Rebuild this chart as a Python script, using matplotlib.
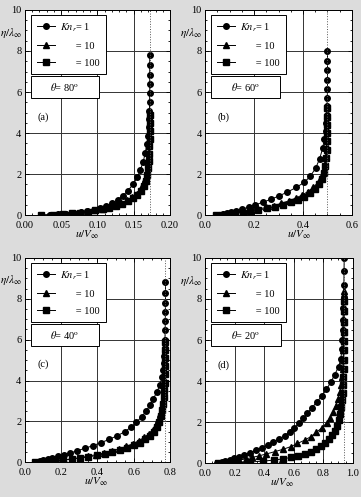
import numpy as np
import matplotlib
matplotlib.use("Agg")
import matplotlib.pyplot as plt
from matplotlib.patches import Rectangle
from matplotlib.ticker import AutoMinorLocator, FormatStrFormatter

plt.rcParams['font.family'] = ['Liberation Serif', 'DejaVu Serif']
plt.rcParams['mathtext.fontset'] = 'stix'

# ---- data: (eta/lambda, u/V) for each panel and Knudsen number ----
# panel (a), theta = 80
a_kn1_eta = [7.8, 7.3, 6.85, 6.4, 5.95, 5.5, 5.1, 4.7, 4.3, 3.85, 3.45, 3.05, 2.6, 2.2, 1.85,
             1.5, 1.2, 0.95, 0.75, 0.58, 0.45, 0.35, 0.27, 0.2, 0.15, 0.1, 0.065, 0.035, 0.015, 0.0]
a_kn1_u = [0.172, 0.172, 0.172, 0.172, 0.172, 0.1718, 0.1716, 0.1712, 0.1705, 0.1695, 0.168, 0.166,
           0.163, 0.159, 0.155, 0.149, 0.142, 0.135, 0.128, 0.120, 0.112, 0.104, 0.095, 0.086, 0.077,
           0.067, 0.057, 0.046, 0.034, 0.022]
a_kn10_eta = [5.0, 4.6, 4.2, 3.8, 3.45, 3.1, 2.75, 2.4, 2.05, 1.75, 1.5, 1.25, 1.05, 0.88, 0.73,
              0.6, 0.49, 0.4, 0.32, 0.25, 0.19, 0.14, 0.1, 0.065, 0.035, 0.015, 0.0]
a_kn10_u = [0.172, 0.172, 0.172, 0.1718, 0.1715, 0.171, 0.1705, 0.1695, 0.168, 0.166, 0.163, 0.159,
            0.154, 0.148, 0.141, 0.133, 0.124, 0.115, 0.106, 0.097, 0.087, 0.077, 0.067, 0.056,
            0.045, 0.033, 0.022]
a_kn100_eta = [4.9, 4.5, 4.1, 3.7, 3.35, 3.0, 2.65, 2.3, 1.98, 1.68, 1.42, 1.2, 1.0, 0.84, 0.7,
               0.57, 0.46, 0.37, 0.3, 0.23, 0.17, 0.12, 0.085, 0.05, 0.025, 0.0]
a_kn100_u = [0.172, 0.172, 0.172, 0.1718, 0.1715, 0.1712, 0.1706, 0.1698, 0.1685, 0.1665, 0.164,
             0.160, 0.155, 0.149, 0.142, 0.134, 0.125, 0.116, 0.107, 0.097, 0.087, 0.076, 0.065,
             0.053, 0.039, 0.022]

# panel (b), theta = 60
b_kn1_eta = [8.0, 7.5, 7.05, 6.6, 6.15, 5.7, 5.3, 4.9, 4.5, 4.1, 3.7, 3.25, 2.75, 2.3, 1.9, 1.6,
             1.35, 1.12, 0.93, 0.77, 0.63, 0.5, 0.39, 0.3, 0.22, 0.15, 0.1, 0.06, 0.03, 0.0]
b_kn1_u = [0.50, 0.50, 0.50, 0.50, 0.50, 0.499, 0.498, 0.497, 0.495, 0.492, 0.487, 0.480, 0.468,
           0.452, 0.430, 0.405, 0.372, 0.335, 0.300, 0.268, 0.235, 0.205, 0.178, 0.152, 0.128,
           0.106, 0.088, 0.072, 0.058, 0.045]
b_kn10_eta = [5.3, 4.9, 4.5, 4.1, 3.7, 3.3, 2.9, 2.5, 2.15, 1.85, 1.58, 1.35, 1.15, 0.98, 0.83,
              0.7, 0.58, 0.47, 0.38, 0.3, 0.23, 0.17, 0.12, 0.075, 0.04, 0.0]
b_kn10_u = [0.50, 0.50, 0.50, 0.499, 0.498, 0.497, 0.494, 0.490, 0.484, 0.474, 0.460, 0.442, 0.420,
            0.396, 0.370, 0.342, 0.312, 0.282, 0.250, 0.218, 0.186, 0.155, 0.126, 0.098, 0.072, 0.045]
b_kn100_eta = [5.2, 4.8, 4.4, 4.0, 3.6, 3.2, 2.8, 2.4, 2.05, 1.75, 1.5, 1.27, 1.07, 0.9, 0.75,
               0.62, 0.51, 0.41, 0.33, 0.25, 0.19, 0.13, 0.09, 0.05, 0.02, 0.0]
b_kn100_u = [0.50, 0.50, 0.50, 0.499, 0.498, 0.496, 0.494, 0.490, 0.486, 0.478, 0.466, 0.450,
             0.430, 0.406, 0.380, 0.350, 0.318, 0.285, 0.252, 0.218, 0.185, 0.153, 0.122, 0.093,
             0.068, 0.045]

# panel (c), theta = 40
c_kn1_eta = [8.8, 8.3, 7.8, 7.35, 6.9, 6.45, 6.0, 5.6, 5.2, 4.85, 4.5, 4.15, 3.8, 3.45, 3.1, 2.8,
             2.5, 2.22, 1.96, 1.72, 1.5, 1.3, 1.12, 0.96, 0.81, 0.68, 0.56, 0.45, 0.36, 0.28, 0.21,
             0.15, 0.1, 0.06, 0.03, 0.0]
c_kn1_u = [0.775, 0.775, 0.775, 0.774, 0.774, 0.773, 0.772, 0.770, 0.768, 0.766, 0.763, 0.756,
           0.745, 0.728, 0.708, 0.690, 0.668, 0.643, 0.615, 0.585, 0.552, 0.510, 0.465, 0.420,
           0.375, 0.330, 0.288, 0.250, 0.215, 0.182, 0.152, 0.125, 0.102, 0.083, 0.068, 0.055]
c_kn10_eta = [6.0, 5.6, 5.2, 4.8, 4.4, 4.0, 3.65, 3.3, 2.95, 2.65, 2.35, 2.08, 1.83, 1.6, 1.4,
              1.21, 1.05, 0.9, 0.77, 0.65, 0.55, 0.45, 0.37, 0.3, 0.23, 0.17, 0.12, 0.08, 0.045,
              0.02, 0.0]
c_kn10_u = [0.775, 0.775, 0.774, 0.773, 0.772, 0.770, 0.768, 0.765, 0.760, 0.754, 0.746, 0.736,
            0.722, 0.705, 0.684, 0.658, 0.628, 0.594, 0.557, 0.518, 0.478, 0.435, 0.393, 0.350,
            0.306, 0.262, 0.218, 0.176, 0.136, 0.097, 0.058]
c_kn100_eta = [5.9, 5.5, 5.1, 4.7, 4.3, 3.9, 3.55, 3.2, 2.85, 2.55, 2.25, 1.98, 1.73, 1.5, 1.3,
               1.12, 0.96, 0.82, 0.7, 0.59, 0.49, 0.4, 0.33, 0.26, 0.2, 0.15, 0.1, 0.065, 0.035,
               0.015, 0.0]
c_kn100_u = [0.775, 0.775, 0.774, 0.773, 0.772, 0.771, 0.769, 0.766, 0.762, 0.757, 0.750, 0.740,
             0.727, 0.710, 0.689, 0.663, 0.633, 0.600, 0.563, 0.524, 0.482, 0.439, 0.395, 0.350,
             0.304, 0.258, 0.212, 0.168, 0.126, 0.090, 0.058]

# panel (d), theta = 20
d_kn1_eta = [10.0, 9.35, 8.7, 8.1, 7.55, 7.0, 6.5, 6.0, 5.55, 5.1, 4.7, 4.3, 3.95, 3.6, 3.28, 2.98,
             2.7, 2.43, 2.18, 1.95, 1.73, 1.53, 1.34, 1.17, 1.01, 0.87, 0.74, 0.62, 0.51, 0.41,
             0.32, 0.24, 0.17, 0.11, 0.06, 0.025, 0.0]
d_kn1_u = [0.940, 0.939, 0.938, 0.936, 0.934, 0.932, 0.930, 0.928, 0.924, 0.918, 0.902, 0.875,
           0.850, 0.820, 0.790, 0.755, 0.722, 0.692, 0.664, 0.635, 0.604, 0.572, 0.537, 0.500,
           0.462, 0.422, 0.385, 0.345, 0.305, 0.266, 0.230, 0.196, 0.166, 0.138, 0.114, 0.095,
           0.078]
d_kn10_eta = [8.4, 7.9, 7.4, 6.9, 6.4, 5.95, 5.5, 5.05, 4.6, 4.2, 3.82, 3.46, 3.12, 2.8, 2.5, 2.22,
              1.96, 1.72, 1.5, 1.3, 1.12, 0.96, 0.81, 0.68, 0.56, 0.45, 0.36, 0.28, 0.21, 0.15,
              0.1, 0.06, 0.03, 0.0]
d_kn10_u = [0.940, 0.940, 0.939, 0.939, 0.938, 0.937, 0.935, 0.933, 0.930, 0.925, 0.918, 0.909,
            0.897, 0.882, 0.864, 0.845, 0.822, 0.788, 0.752, 0.716, 0.672, 0.624, 0.580, 0.528,
            0.470, 0.414, 0.365, 0.318, 0.274, 0.232, 0.190, 0.152, 0.115, 0.080]
d_kn100_eta = [7.9, 7.4, 6.9, 6.4, 5.95, 5.5, 5.05, 4.6, 4.2, 3.8, 3.42, 3.06, 2.72, 2.4, 2.1, 1.83,
               1.58, 1.36, 1.16, 0.98, 0.82, 0.68, 0.56, 0.45, 0.36, 0.28, 0.21, 0.15, 0.1, 0.06,
               0.03, 0.0]
d_kn100_u = [0.940, 0.940, 0.940, 0.939, 0.939, 0.938, 0.937, 0.936, 0.934, 0.932, 0.929, 0.925,
             0.919, 0.912, 0.904, 0.892, 0.878, 0.860, 0.838, 0.812, 0.782, 0.750, 0.714, 0.672,
             0.628, 0.580, 0.525, 0.463, 0.390, 0.305, 0.210, 0.090]

panel_tags = ['(a)', '(b)', '(c)', '(d)']
thetas = [80, 60, 40, 20]
u_inf = [0.172, 0.50, 0.775, 0.94]
x_max = [0.20, 0.6, 0.8, 1.0]
x_step = [0.05, 0.2, 0.2, 0.2]
x_fmt = ['%.2f', '%.1f', '%.1f', '%.1f']
curves = [
    [(a_kn1_u, a_kn1_eta), (a_kn10_u, a_kn10_eta), (a_kn100_u, a_kn100_eta)],
    [(b_kn1_u, b_kn1_eta), (b_kn10_u, b_kn10_eta), (b_kn100_u, b_kn100_eta)],
    [(c_kn1_u, c_kn1_eta), (c_kn10_u, c_kn10_eta), (c_kn100_u, c_kn100_eta)],
    [(d_kn1_u, d_kn1_eta), (d_kn10_u, d_kn10_eta), (d_kn100_u, d_kn100_eta)],
]
markers = ['o', '^', 's']
labels = [r'$Kn_r$= 1', '      = 10', '      = 100']

fig = plt.figure(figsize=(3.61, 4.97), dpi=100, facecolor='#dcdcdc')
boxes = [
    [0.069, 0.567, 0.402, 0.413],
    [0.568, 0.567, 0.407, 0.413],
    [0.069, 0.070, 0.402, 0.411],
    [0.568, 0.068, 0.410, 0.413],
]
xlab_pos = [0.43, 0.64, 0.49, 0.52]

for i in range(4):
    ax = fig.add_axes(boxes[i])
    ax.set_facecolor('white')
    for (u, eta), m, lab in zip(curves[i], markers, labels):
        ax.plot(u, eta, color='black', lw=0.7, marker=m, ms=4.0, label=lab)
    ax.axvline(u_inf[i], color='#555555', ls=':', lw=0.7)

    ax.set_xlim(0, x_max[i])
    ax.set_ylim(0, 10)
    ax.set_xticks(np.arange(0, x_max[i] + 1e-9, x_step[i]))
    ax.set_yticks([0, 2, 4, 6, 8, 10])
    ax.xaxis.set_major_formatter(FormatStrFormatter(x_fmt[i]))
    ax.xaxis.set_minor_locator(AutoMinorLocator(5 if i == 0 else 4))
    ax.yaxis.set_minor_locator(AutoMinorLocator(4))
    ax.tick_params(which='both', direction='in', top=True, right=True, labelsize=7.5,
                   width=0.6)
    ax.tick_params(axis='x', pad=4)
    ax.tick_params(axis='y', pad=2.5)
    ax.tick_params(which='major', length=3)
    ax.tick_params(which='minor', length=1.5)
    ax.grid(True, which='major', color='#333333', lw=0.7)
    for s in ax.spines.values():
        s.set_linewidth(0.7)

    ax.text(-0.02, 0.89, r'$\eta/\lambda_\infty$', transform=ax.transAxes,
            ha='right', va='center', fontsize=8)
    ax.text(xlab_pos[i], -0.095, r'$u/V_\infty$', transform=ax.transAxes,
            ha='center', va='center', fontsize=8)

    leg = ax.legend(loc='upper left', bbox_to_anchor=(0.04, 0.976), borderaxespad=0,
                    fontsize=7.5, frameon=True, fancybox=False, edgecolor='black',
                    handlelength=1.7, handletextpad=0.5, labelspacing=0.75, borderpad=0.6)
    leg.get_frame().set_linewidth(0.7)
    leg.get_frame().set_alpha(1)

    ax.add_patch(Rectangle((0.04, 0.571), 0.47, 0.107, transform=ax.transAxes,
                           fc='white', ec='black', lw=0.7, zorder=5))
    ax.text(0.275, 0.624, r'$\theta$= %d$^{\rm o}$' % thetas[i], transform=ax.transAxes,
            ha='center', va='center', fontsize=7.5, zorder=6)
    ax.text(0.085, 0.478, panel_tags[i], transform=ax.transAxes, ha='left', va='center',
            fontsize=7.5)

fig.savefig('out.png', dpi=100, facecolor=fig.get_facecolor())
